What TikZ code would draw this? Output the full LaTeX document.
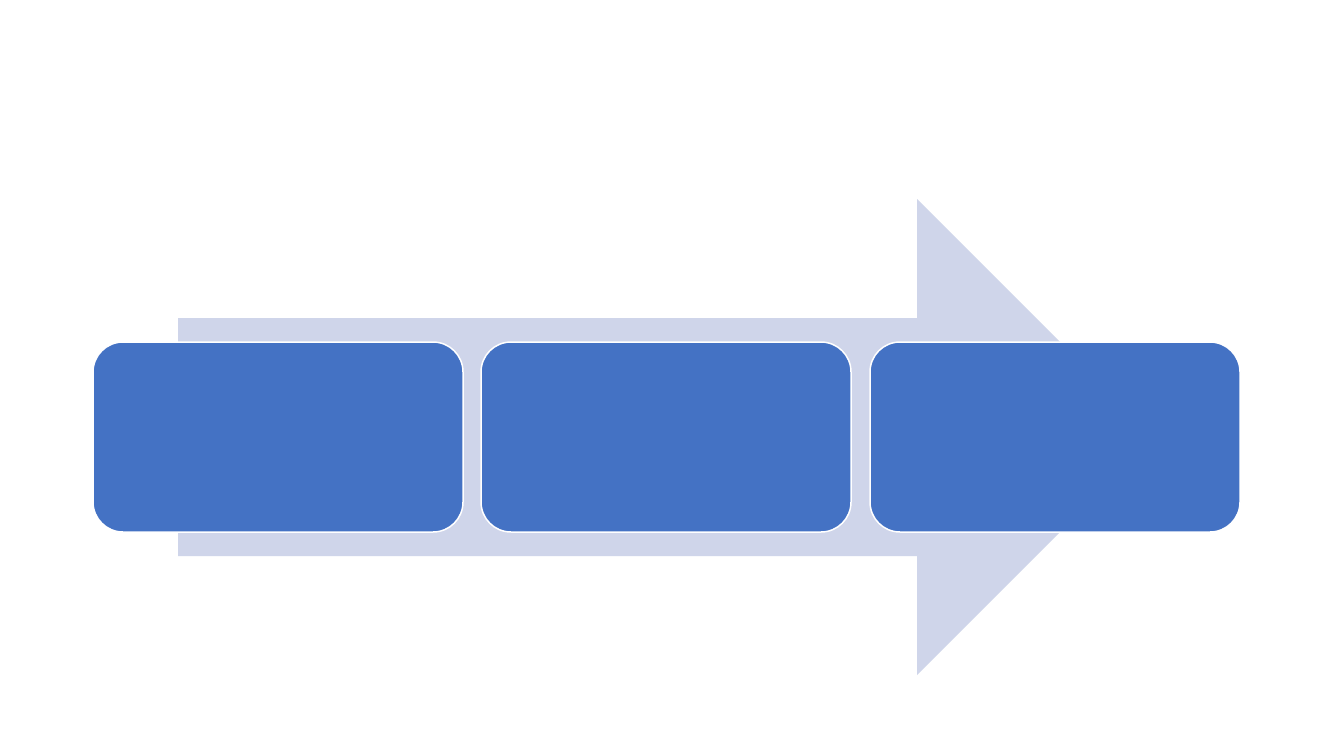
\documentclass[tikz,border=0pt]{standalone}
\usetikzlibrary{positioning}
\definecolor{boxblue}{HTML}{4472C4}
\definecolor{arrowfill}{HTML}{CFD5EA}
\tikzset{
  stagebox/.style={draw=white, line width=1.5pt, fill=boxblue, rounded corners=30pt,
    minimum width=370pt, minimum height=190pt, inner sep=0pt},
  bigarrow/.style={fill=arrowfill, draw=none}
}
\begin{document}
\begin{tikzpicture}[x=1pt,y=-1pt]
\useasboundingbox[fill=white] (0,0) rectangle (1333,750);
\fill[bigarrow] (178,318) -- (917,318) -- (917,199) -- (1155,437) -- (917,675) -- (917,556) -- (178,556) -- cycle;
\node[stagebox] (b1) at (278,437) {};
\node[stagebox] (b2) at (666,437) {};
\node[stagebox] (b3) at (1055,437) {};
\end{tikzpicture}
\end{document}
